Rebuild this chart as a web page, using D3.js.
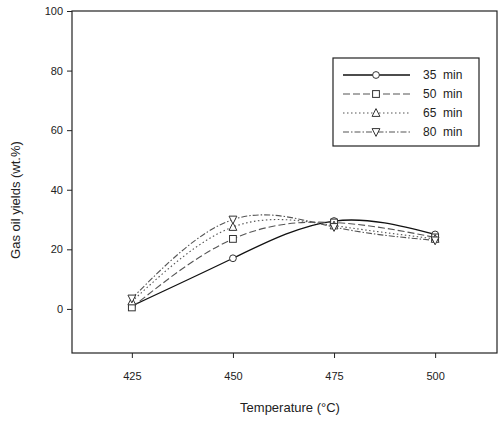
<!DOCTYPE html>
<html><head><meta charset="utf-8">
<script src="https://cdn.jsdelivr.net/npm/d3@7"></script>
<style>body{margin:0;background:#fff;} text{font-family:"Liberation Sans",Arial,sans-serif;}</style>
</head><body><svg id="c" width="498" height="425"></svg>
<script>
const temps = [425, 450, 475, 500];
const seriesNames = ["35  min", "50  min", "65  min", "80  min"];
const y35 = [1, 17, 29.5, 25];
const y50 = [0.5, 23.5, 29, 24];
const y65 = [2.5, 27.5, 28, 23.5];
const y80 = [3.5, 30, 27.5, 23];
const xTicks = [425, 450, 475, 500];
const yTicks = [0, 20, 40, 60, 80, 100];

const series = [y35, y50, y65, y80];
const dashes = [null, "7,3", "1.5,2.5", "6,2,1.5,2"];
const markers = ["circle", "square", "triangle", "tridown"];

const svg = d3.select("#c");
const L = 72, R = 497, T = 11, B = 353;
const x = d3.scaleLinear().domain([410.2, 515.3]).range([L, R]);
const y = d3.scaleLinear().domain([-14.8, 100]).range([B, T]);

svg.append("rect").attr("x", L).attr("y", T).attr("width", R - L).attr("height", B - T)
  .attr("fill", "none").attr("stroke", "#222").attr("stroke-width", 1.2);

const xa = svg.append("g").attr("transform", `translate(0,${B})`)
  .call(d3.axisBottom(x).tickValues(xTicks).tickSize(5).tickPadding(14).tickFormat(d3.format("d")));
const ya = svg.append("g").attr("transform", `translate(${L},0)`)
  .call(d3.axisLeft(y).tickValues(yTicks).tickSize(5).tickPadding(4).tickFormat(d3.format("d")));
[xa, ya].forEach(a => {
  a.select(".domain").remove();
  a.selectAll("line").attr("stroke", "#222");
  a.selectAll("text").attr("font-size", 11).attr("fill", "#222")
    .style("font-family", "'Liberation Sans',Arial,sans-serif");
});

svg.append("text").attr("x", 290).attr("y", 412).attr("text-anchor", "middle")
  .attr("font-size", 13).attr("fill", "#222").text("Temperature (°C)");
svg.append("text").attr("transform", "translate(20,200) rotate(-90)").attr("text-anchor", "middle")
  .attr("font-size", 13).attr("fill", "#222").text("Gas oil yields (wt.%)");

const line = d3.line().x((d, i) => x(temps[i])).y(d => y(d)).curve(d3.curveNatural);

function drawMarker(g, type, cx, cy) {
  const s = 3.4;
  let el;
  if (type === "circle") el = g.append("circle").attr("cx", cx).attr("cy", cy).attr("r", s);
  else if (type === "square") el = g.append("rect").attr("x", cx - s).attr("y", cy - s).attr("width", 2 * s).attr("height", 2 * s);
  else if (type === "triangle") el = g.append("path").attr("d", `M${cx},${cy - s - 1}L${cx + s + 0.5},${cy + s}L${cx - s - 0.5},${cy + s}Z`);
  else el = g.append("path").attr("d", `M${cx},${cy + s + 1}L${cx + s + 0.5},${cy - s}L${cx - s - 0.5},${cy - s}Z`);
  el.attr("fill", "#fff").attr("stroke", "#333").attr("stroke-width", 1);
}

series.forEach((vals, k) => {
  svg.append("path").datum(vals).attr("d", line).attr("fill", "none")
    .attr("stroke", k === 0 ? "#111" : "#555").attr("stroke-width", k === 0 ? 1.3 : 1.1)
    .attr("stroke-dasharray", dashes[k]);
});
series.forEach((vals, k) => {
  const g = svg.append("g");
  vals.forEach((v, i) => drawMarker(g, markers[k], x(temps[i]), y(v)));
});

const lg = svg.append("g");
lg.append("rect").attr("x", 333).attr("y", 58).attr("width", 146).attr("height", 88)
  .attr("fill", "#fff").attr("stroke", "#222").attr("stroke-width", 1.2);
seriesNames.forEach((name, k) => {
  const ly = 75 + k * 19;
  lg.append("line").attr("x1", 343).attr("x2", 410).attr("y1", ly).attr("y2", ly)
    .attr("stroke", k === 0 ? "#111" : "#555").attr("stroke-width", k === 0 ? 1.3 : 1.1)
    .attr("stroke-dasharray", dashes[k]);
  drawMarker(lg, markers[k], 376, ly);
  lg.append("text").attr("x", 423).attr("y", ly + 4).attr("font-size", 12).attr("fill", "#222")
    .attr("xml:space", "preserve").style("white-space", "pre").text(name);
});
</script></body></html>
